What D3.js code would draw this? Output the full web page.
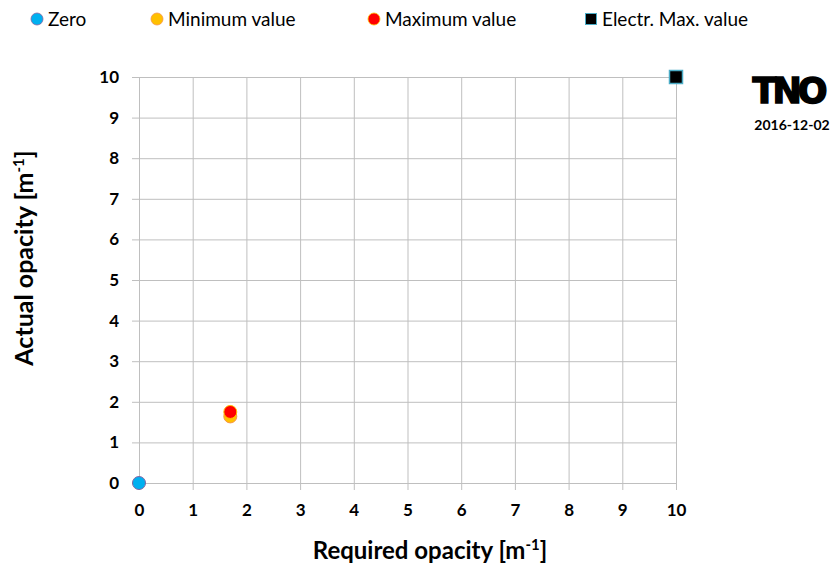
<!DOCTYPE html>
<html>
<head>
<meta charset="utf-8">
<script src="https://cdn.jsdelivr.net/npm/d3@7"></script>
<style>
body { margin: 0; background: #fff; }
text { font-family: Lato, "Open Sans", sans-serif; }
</style>
</head>
<body>
<div id="chart"></div>
<script>
// data
var series_names = ["Zero", "Minimum value", "Maximum value", "Electr. Max. value"];
var series_x = [0, 1.7, 1.7, 10];
var series_y = [0, 1.64, 1.75, 10];
var series_fill = ["#00b0f0", "#ffc000", "#ff0000", "#000000"];
var series_stroke = ["#8064a2", "#f79646", "#ffc000", "#4bacc6"];
var series_shape = ["circle", "circle", "circle", "square"];
var x_ticks = [0, 1, 2, 3, 4, 5, 6, 7, 8, 9, 10];
var y_ticks = [0, 1, 2, 3, 4, 5, 6, 7, 8, 9, 10];
var legend_x = [37, 157, 374, 591];

var width = 835, height = 570;
var margin = {left: 139, right: 159, top: 77, bottom: 87};
var plot_w = width - margin.left - margin.right;
var plot_h = height - margin.top - margin.bottom;

var x = d3.scaleLinear().domain([0, 10]).range([0, plot_w]);
var y = d3.scaleLinear().domain([0, 10]).range([plot_h, 0]);

var svg = d3.select("#chart").append("svg")
    .attr("width", width)
    .attr("height", height);

var vis = svg.append("g")
    .attr("transform", "translate(" + margin.left + "," + margin.top + ")");

// grid lines with outward ticks
var xaxis = d3.axisBottom(x).tickValues(x_ticks).tickSize(plot_h + 7).tickPadding(14).tickFormat(d3.format("d"));
var yaxis = d3.axisLeft(y).tickValues(y_ticks).tickSize(plot_w + 7).tickPadding(13).tickFormat(d3.format("d"));

vis.append("g")
    .attr("class", "xaxis")
    .call(xaxis)
    .call(function (g) { g.select(".domain").remove(); });

vis.append("g")
    .attr("class", "yaxis")
    .attr("transform", "translate(" + plot_w + ",0)")
    .call(yaxis)
    .call(function (g) { g.select(".domain").remove(); });

vis.selectAll(".tick line").style("stroke", "#bfbfbf").style("stroke-width", 1);
vis.selectAll(".tick text")
    .style("font-size", "17px")
    .style("font-weight", "bold")
    .style("fill", "#000");

// axis titles
var xtitle = svg.append("text")
    .attr("x", 430)
    .attr("y", 559)
    .style("text-anchor", "middle")
    .style("font-size", "24px")
    .style("font-weight", "bold");
xtitle.append("tspan").text("Required opacity [m");
xtitle.append("tspan").attr("dy", -9).style("font-size", "15px").text("-1");
xtitle.append("tspan").attr("dy", 9).text("]");

var ytitle = svg.append("text")
    .attr("transform", "translate(33,258) rotate(-90)")
    .style("text-anchor", "middle")
    .style("font-size", "25px")
    .style("font-weight", "bold");
ytitle.append("tspan").text("Actual opacity [m");
ytitle.append("tspan").attr("dy", -9).style("font-size", "15px").text("-1");
ytitle.append("tspan").attr("dy", 9).text("]");

// points
var points = d3.range(series_names.length);
vis.selectAll("circle.pt")
    .data(points.filter(function (i) { return series_shape[i] == "circle"; }))
    .enter().append("circle")
    .attr("class", "pt")
    .attr("cx", function (i) { return x(series_x[i]); })
    .attr("cy", function (i) { return y(series_y[i]); })
    .attr("r", 6.5)
    .style("fill", function (i) { return series_fill[i]; })
    .style("stroke", function (i) { return series_stroke[i]; })
    .style("stroke-width", 1);

vis.selectAll("rect.pt")
    .data(points.filter(function (i) { return series_shape[i] == "square"; }))
    .enter().append("rect")
    .attr("class", "pt")
    .attr("x", function (i) { return x(series_x[i]) - 6.5; })
    .attr("y", function (i) { return y(series_y[i]) - 6.5; })
    .attr("width", 13)
    .attr("height", 13)
    .style("fill", function (i) { return series_fill[i]; })
    .style("stroke", function (i) { return series_stroke[i]; })
    .style("stroke-width", 1.5);

// legend
var legend = svg.append("g").selectAll("g")
    .data(points)
    .enter().append("g")
    .attr("transform", function (i) { return "translate(" + legend_x[i] + ",19)"; });

legend.each(function (i) {
    var g = d3.select(this);
    if (series_shape[i] == "circle") {
        g.append("circle").attr("r", 6)
            .style("fill", series_fill[i]).style("stroke", series_stroke[i]).style("stroke-width", 0.8);
    } else {
        g.append("rect").attr("x", -5.5).attr("y", -5.5).attr("width", 11).attr("height", 11)
            .style("fill", series_fill[i]).style("stroke", series_stroke[i]).style("stroke-width", 1);
    }
    g.append("text")
        .attr("x", 11)
        .attr("y", 7)
        .style("font-size", "19px")
        .style("fill", "#000")
        .text(series_names[i]);
});

// logo and date
svg.append("text")
    .attr("x", 788)
    .attr("y", 103)
    .style("text-anchor", "middle")
    .style("font-family", "'DejaVu Sans', sans-serif")
    .style("font-size", "35px")
    .style("font-weight", "bold")
    .style("letter-spacing", "-4px")
    .style("stroke", "#000")
    .style("stroke-width", 1.5)
    .text("TNO");

svg.append("text")
    .attr("x", 792)
    .attr("y", 130)
    .style("text-anchor", "middle")
    .style("font-size", "14px")
    .style("font-weight", "bold")
    .text("2016-12-02");
</script>
</body>
</html>
